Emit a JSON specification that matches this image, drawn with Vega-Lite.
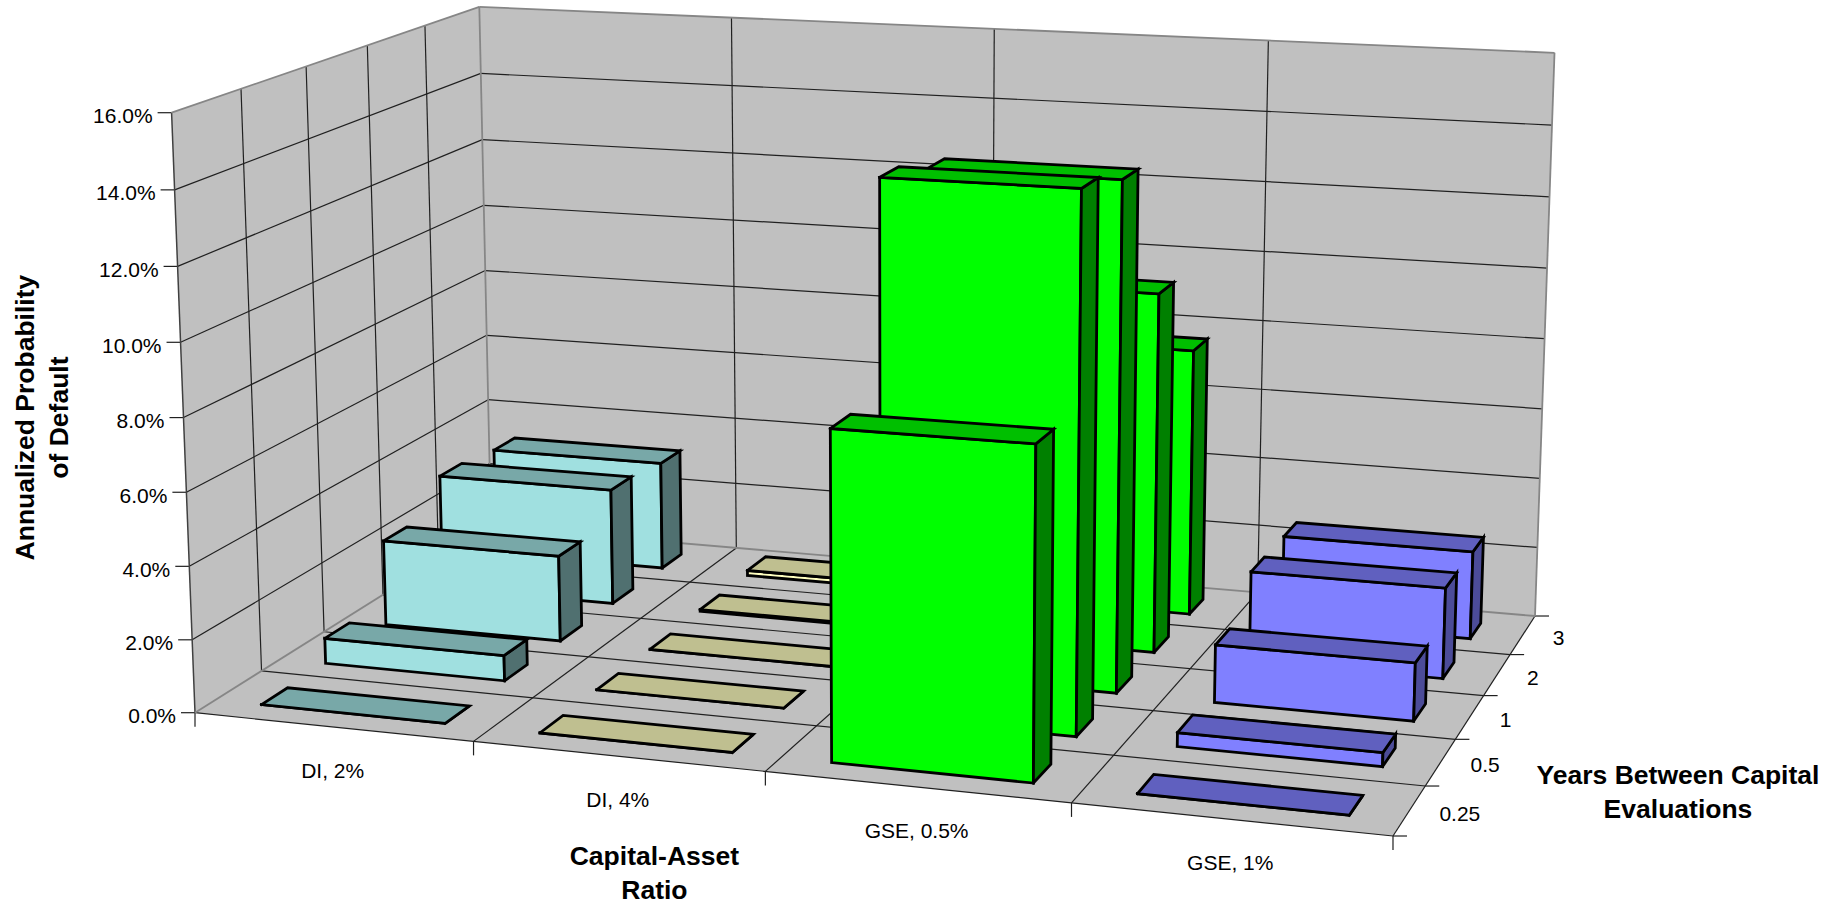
{
  "$schema": "https://vega.github.io/schema/vega-lite/v6.json",
  "width": 1839,
  "height": 906,
  "padding": 0,
  "autosize": {"type": "none"},
  "background": "white",
  "view": {"stroke": null},
  "config": {"text": {"font": "Liberation Sans"}, "style": {"cell": {"stroke": null}}},
  "datasets": {
    "walls": [{"wall": "left"}, {"wall": "back"}, {"wall": "floor"}],
    "grid": [
      {"plane": "leftH", "tick": 2, "line": "grid"}, {"plane": "leftH", "tick": 4, "line": "grid"},
      {"plane": "leftH", "tick": 6, "line": "grid"}, {"plane": "leftH", "tick": 8, "line": "grid"},
      {"plane": "leftH", "tick": 10, "line": "grid"}, {"plane": "leftH", "tick": 12, "line": "grid"},
      {"plane": "leftH", "tick": 14, "line": "grid"},
      {"plane": "backH", "tick": 2, "line": "grid"}, {"plane": "backH", "tick": 4, "line": "grid"},
      {"plane": "backH", "tick": 6, "line": "grid"}, {"plane": "backH", "tick": 8, "line": "grid"},
      {"plane": "backH", "tick": 10, "line": "grid"}, {"plane": "backH", "tick": 12, "line": "grid"},
      {"plane": "backH", "tick": 14, "line": "grid"},
      {"plane": "leftV", "tick": 1, "line": "grid"}, {"plane": "leftV", "tick": 2, "line": "grid"},
      {"plane": "leftV", "tick": 3, "line": "grid"}, {"plane": "leftV", "tick": 4, "line": "grid"},
      {"plane": "backV", "tick": 1, "line": "grid"}, {"plane": "backV", "tick": 2, "line": "grid"},
      {"plane": "backV", "tick": 3, "line": "grid"},
      {"plane": "floorX", "tick": 1, "line": "grid"}, {"plane": "floorX", "tick": 2, "line": "grid"},
      {"plane": "floorX", "tick": 3, "line": "grid"}, {"plane": "floorX", "tick": 4, "line": "grid"},
      {"plane": "floorD", "tick": 0, "line": "grid"}, {"plane": "floorD", "tick": 1, "line": "grid"},
      {"plane": "floorD", "tick": 2, "line": "grid"}, {"plane": "floorD", "tick": 3, "line": "grid"},
      {"plane": "floorD", "tick": 4, "line": "grid"},
      {"plane": "tickZ", "tick": 0, "line": "grid"}, {"plane": "tickZ", "tick": 2, "line": "grid"},
      {"plane": "tickZ", "tick": 4, "line": "grid"}, {"plane": "tickZ", "tick": 6, "line": "grid"},
      {"plane": "tickZ", "tick": 8, "line": "grid"}, {"plane": "tickZ", "tick": 10, "line": "grid"},
      {"plane": "tickZ", "tick": 12, "line": "grid"}, {"plane": "tickZ", "tick": 14, "line": "grid"},
      {"plane": "tickZ", "tick": 16, "line": "grid"},
      {"plane": "tickX", "tick": 0, "line": "grid"}, {"plane": "tickX", "tick": 1, "line": "grid"},
      {"plane": "tickX", "tick": 2, "line": "grid"}, {"plane": "tickX", "tick": 3, "line": "grid"},
      {"plane": "tickX", "tick": 4, "line": "grid"},
      {"plane": "tickD", "tick": 0, "line": "grid"}, {"plane": "tickD", "tick": 1, "line": "grid"},
      {"plane": "tickD", "tick": 2, "line": "grid"}, {"plane": "tickD", "tick": 3, "line": "grid"},
      {"plane": "tickD", "tick": 4, "line": "grid"}, {"plane": "tickD", "tick": 5, "line": "grid"},
      {"plane": "leftV", "tick": 0, "line": "edge"},
      {"plane": "leftH", "tick": 16, "line": "rim"}, {"plane": "backH", "tick": 16, "line": "rim"},
      {"plane": "leftH", "tick": 0, "line": "rim"}, {"plane": "backH", "tick": 0, "line": "rim"},
      {"plane": "backV", "tick": 0, "line": "rim"}, {"plane": "backV", "tick": 4, "line": "rim"}
    ],
    "bars": [
      {"ratio": "DI, 2%", "years": "3", "value": 3.18},
      {"ratio": "DI, 4%", "years": "3", "value": 0.15},
      {"ratio": "GSE, 0.5%", "years": "3", "value": 7.63},
      {"ratio": "GSE, 1%", "years": "3", "value": 2.49},
      {"ratio": "DI, 2%", "years": "2", "value": 3.35},
      {"ratio": "DI, 4%", "years": "2", "value": 0.05},
      {"ratio": "GSE, 0.5%", "years": "2", "value": 10.05},
      {"ratio": "GSE, 1%", "years": "2", "value": 2.52},
      {"ratio": "DI, 2%", "years": "1", "value": 2.44},
      {"ratio": "DI, 4%", "years": "1", "value": 0},
      {"ratio": "GSE, 0.5%", "years": "1", "value": 13.87},
      {"ratio": "GSE, 1%", "years": "1", "value": 1.58},
      {"ratio": "DI, 2%", "years": "0.5", "value": 0.71},
      {"ratio": "DI, 4%", "years": "0.5", "value": 0},
      {"ratio": "GSE, 0.5%", "years": "0.5", "value": 14.34},
      {"ratio": "GSE, 1%", "years": "0.5", "value": 0.37},
      {"ratio": "DI, 2%", "years": "0.25", "value": 0},
      {"ratio": "DI, 4%", "years": "0.25", "value": 0},
      {"ratio": "GSE, 0.5%", "years": "0.25", "value": 8.7},
      {"ratio": "GSE, 1%", "years": "0.25", "value": 0}
    ],
    "valueLabels": [
      {"label": "0.0%", "at": 0}, {"label": "2.0%", "at": 2}, {"label": "4.0%", "at": 4},
      {"label": "6.0%", "at": 6}, {"label": "8.0%", "at": 8}, {"label": "10.0%", "at": 10},
      {"label": "12.0%", "at": 12}, {"label": "14.0%", "at": 14}, {"label": "16.0%", "at": 16}
    ],
    "ratioLabels": [
      {"label": "DI, 2%", "at": 0.5}, {"label": "DI, 4%", "at": 1.5},
      {"label": "GSE, 0.5%", "at": 2.5}, {"label": "GSE, 1%", "at": 3.5}
    ],
    "yearLabels": [
      {"label": "0.25", "at": 0.5}, {"label": "0.5", "at": 1.5}, {"label": "1", "at": 2.5},
      {"label": "2", "at": 3.5}, {"label": "3", "at": 4.5}
    ]
  },
  "encoding": {
    "x": {"field": "px", "type": "quantitative", "axis": null, "scale": {"domain": [0, 1839], "nice": false, "zero": false}},
    "y": {"field": "py", "type": "quantitative", "axis": null, "scale": {"domain": [906, 0], "nice": false, "zero": false}}
  },
  "layer": [
    {
      "description": "Left wall, back wall and floor of the box",
      "data": {"name": "walls"},
      "transform": [
        {"calculate": "datum.wall === 'left' ? [[0,0,0],[0,5,0],[0,5,16],[0,0,16]] : datum.wall === 'back' ? [[0,5,0],[4,5,0],[4,5,16],[0,5,16]] : [[0,0,0],[4,0,0],[4,5,0],[0,5,0]]", "as": "corners"},
        {"calculate": "[0,1,2,3]", "as": "seq"},
        {"flatten": ["corners", "seq"]},
        {"calculate": "datum.corners[0]", "as": "wx"},
        {"calculate": "datum.corners[1]", "as": "wd"},
        {"calculate": "datum.corners[2]", "as": "wz"},
        {"calculate": "1 - 0.0228*datum.wx + 0.03198*datum.wd - 0.002*datum.wz", "as": "w"},
        {"calculate": "(267.7375*datum.wx + 74.902*datum.wd - 1.80625*datum.wz + 195)/datum.w", "as": "px"},
        {"calculate": "(11.765*datum.wx - 20.286*datum.wd - 37.725*datum.wz + 712.7)/datum.w", "as": "py"}
      ],
      "mark": {"type": "line", "fill": "#C0C0C0", "stroke": null, "strokeWidth": 0},
      "encoding": {
        "detail": {"field": "wall"},
        "order": {"field": "seq", "type": "quantitative"}
      }
    },
    {
      "description": "Grid lines, box edges and axis ticks",
      "data": {"name": "grid"},
      "transform": [
        {"calculate": "indexof(['backV','floorX','tickX'], datum.plane) >= 0 ? datum.tick : datum.plane === 'tickD' ? 4 : 0", "as": "ax"},
        {"calculate": "indexof(['leftV','floorD','tickD'], datum.plane) >= 0 ? datum.tick : (datum.plane === 'backH' || datum.plane === 'backV') ? 5 : 0", "as": "ad"},
        {"calculate": "indexof(['leftH','backH','tickZ'], datum.plane) >= 0 ? datum.tick : 0", "as": "az"},
        {"calculate": "(datum.plane === 'backH' || datum.plane === 'floorD') ? 4 : datum.ax", "as": "bx"},
        {"calculate": "(datum.plane === 'leftH' || datum.plane === 'floorX') ? 5 : datum.ad", "as": "bd"},
        {"calculate": "(datum.plane === 'leftV' || datum.plane === 'backV') ? 16 : datum.az", "as": "bz"},
        {"calculate": "1 - 0.0228*datum.ax + 0.03198*datum.ad - 0.002*datum.az", "as": "wa"},
        {"calculate": "1 - 0.0228*datum.bx + 0.03198*datum.bd - 0.002*datum.bz", "as": "wb"},
        {"calculate": "(267.7375*datum.ax + 74.902*datum.ad - 1.80625*datum.az + 195)/datum.wa", "as": "px"},
        {"calculate": "(11.765*datum.ax - 20.286*datum.ad - 37.725*datum.az + 712.7)/datum.wa", "as": "py"},
        {"calculate": "(267.7375*datum.bx + 74.902*datum.bd - 1.80625*datum.bz + 195)/datum.wb + (datum.plane === 'tickZ' ? -14 : datum.plane === 'tickD' ? 14 : 0)", "as": "px2"},
        {"calculate": "(11.765*datum.bx - 20.286*datum.bd - 37.725*datum.bz + 712.7)/datum.wb + (datum.plane === 'tickX' ? 14 : 0)", "as": "py2"}
      ],
      "mark": {"type": "rule"},
      "encoding": {
        "x2": {"field": "px2"},
        "y2": {"field": "py2"},
        "color": {"field": "line", "type": "nominal", "legend": null, "scale": {"domain": ["grid", "edge", "rim"], "range": ["#202020", "#404040", "#868686"]}},
        "strokeWidth": {"field": "line", "type": "nominal", "legend": null, "scale": {"domain": ["grid", "edge", "rim"], "range": [1.2, 1.8, 2.6]}}
      }
    },
    {
      "description": "Three visible faces of each column, painted back to front",
      "data": {"name": "bars"},
      "transform": [
        {"calculate": "indexof(['DI, 2%','DI, 4%','GSE, 0.5%','GSE, 1%'], datum.ratio)", "as": "ci"},
        {"calculate": "indexof(['0.25','0.5','1','2','3'], datum.years)", "as": "yi"},
        {"calculate": "[{f:'front',i:0,a:0,b:0,c:0},{f:'front',i:1,a:1,b:0,c:0},{f:'front',i:2,a:1,b:0,c:1},{f:'front',i:3,a:0,b:0,c:1},{f:'front',i:4,a:0,b:0,c:0},{f:'side',i:0,a:1,b:0,c:0},{f:'side',i:1,a:1,b:1,c:0},{f:'side',i:2,a:1,b:1,c:1},{f:'side',i:3,a:1,b:0,c:1},{f:'side',i:4,a:1,b:0,c:0},{f:'top',i:0,a:0,b:0,c:1},{f:'top',i:1,a:1,b:0,c:1},{f:'top',i:2,a:1,b:1,c:1},{f:'top',i:3,a:0,b:1,c:1},{f:'top',i:4,a:0,b:0,c:1}]", "as": "v"},
        {"flatten": ["v"]},
        {"calculate": "datum.ratio + '|' + datum.v.f", "as": "faceKey"},
        {"calculate": "datum.ratio + '|' + datum.years + '|' + datum.v.f", "as": "faceId"},
        {"calculate": "datum.v.i", "as": "seq"},
        {"calculate": "datum.ci + 0.17 + 0.665*datum.v.a", "as": "wx"},
        {"calculate": "datum.yi + 0.3 + 0.4*datum.v.b", "as": "wd"},
        {"calculate": "datum.value*datum.v.c", "as": "wz"},
        {"calculate": "1 - 0.0228*datum.wx + 0.03198*datum.wd - 0.002*datum.wz", "as": "w"},
        {"calculate": "(267.7375*datum.wx + 74.902*datum.wd - 1.80625*datum.wz + 195)/datum.w", "as": "px"},
        {"calculate": "(11.765*datum.wx - 20.286*datum.wd - 37.725*datum.wz + 712.7)/datum.w", "as": "py"}
      ],
      "mark": {"type": "line", "stroke": "#000000", "strokeWidth": 2.8, "strokeJoin": "miter", "strokeCap": "square"},
      "encoding": {
        "detail": {"field": "faceId"},
        "order": {"field": "seq", "type": "quantitative"},
        "fill": {
          "field": "faceKey", "type": "nominal", "legend": null,
          "scale": {
            "domain": ["DI, 2%|front", "DI, 2%|top", "DI, 2%|side", "DI, 4%|front", "DI, 4%|top", "DI, 4%|side", "GSE, 0.5%|front", "GSE, 0.5%|top", "GSE, 0.5%|side", "GSE, 1%|front", "GSE, 1%|top", "GSE, 1%|side"],
            "range": ["#A0E0E0", "#78A8A8", "#507070", "#FFFFC0", "#BFBF90", "#808060", "#00FF00", "#00BF00", "#008000", "#8080FF", "#6060BF", "#4C4C99"]
          }
        }
      }
    },
    {
      "description": "Probability labels along the front-left edge",
      "data": {"name": "valueLabels"},
      "transform": [
        {"calculate": "1 - 0.002*datum.at", "as": "w"},
        {"calculate": "(195 - 1.80625*datum.at)/datum.w", "as": "px"},
        {"calculate": "(712.7 - 37.725*datum.at)/datum.w", "as": "py"}
      ],
      "mark": {"type": "text", "align": "right", "baseline": "middle", "dx": -19, "dy": 4.5, "fontSize": 21, "font": "Liberation Sans", "color": "#000000"},
      "encoding": {"text": {"field": "label"}}
    },
    {
      "description": "Capital-asset ratio labels along the front edge",
      "data": {"name": "ratioLabels"},
      "transform": [
        {"calculate": "1 - 0.0228*datum.at", "as": "w"},
        {"calculate": "(267.7375*datum.at + 195)/datum.w", "as": "px"},
        {"calculate": "(11.765*datum.at + 712.7)/datum.w", "as": "py"}
      ],
      "mark": {"type": "text", "align": "center", "baseline": "middle", "dy": 45, "fontSize": 21, "font": "Liberation Sans", "color": "#000000"},
      "encoding": {"text": {"field": "label"}}
    },
    {
      "description": "Evaluation interval labels along the right edge",
      "data": {"name": "yearLabels"},
      "transform": [
        {"calculate": "1 - 0.0912 + 0.03198*datum.at", "as": "w"},
        {"calculate": "(1070.95 + 74.902*datum.at + 195)/datum.w", "as": "px"},
        {"calculate": "(47.06 - 20.286*datum.at + 712.7)/datum.w", "as": "py"}
      ],
      "mark": {"type": "text", "align": "left", "baseline": "middle", "dx": 30, "dy": 4, "fontSize": 21, "font": "Liberation Sans", "color": "#000000"},
      "encoding": {"text": {"field": "label"}}
    },
    {
      "description": "Title of the ratio axis, below the middle of the front edge",
      "data": {"values": [{"title": "Capital-Asset\nRatio"}]},
      "transform": [
        {"calculate": "(267.7375*2 + 195)/(1 - 0.0228*2)", "as": "px"},
        {"calculate": "(11.765*2 + 712.7)/(1 - 0.0228*2)", "as": "py"}
      ],
      "mark": {"type": "text", "align": "center", "baseline": "middle", "lineBreak": "\n", "lineHeight": 34, "dx": -111, "dy": 86, "fontSize": 26.5, "fontWeight": "bold", "font": "Liberation Sans", "color": "#000000"},
      "encoding": {"text": {"field": "title"}}
    },
    {
      "description": "Title of the interval axis, right of the front-right corner",
      "data": {"values": [{"title": "Years Between Capital\nEvaluations"}]},
      "transform": [
        {"calculate": "(267.7375*4 + 195)/(1 - 0.0228*4)", "as": "px"},
        {"calculate": "(11.765*4 + 712.7)/(1 - 0.0228*4)", "as": "py"}
      ],
      "mark": {"type": "text", "align": "center", "baseline": "middle", "lineBreak": "\n", "lineHeight": 34, "dx": 285, "dy": -60, "fontSize": 26.5, "fontWeight": "bold", "font": "Liberation Sans", "color": "#000000"},
      "encoding": {"text": {"field": "title"}}
    },
    {
      "description": "Title of the probability axis, left of the value labels",
      "data": {"values": [{"title": "Annualized Probability\nof Default"}]},
      "transform": [
        {"calculate": "(195 - 1.80625*8)/(1 - 0.002*8) - 157", "as": "px"},
        {"calculate": "(712.7 - 37.725*8)/(1 - 0.002*8)", "as": "py"}
      ],
      "mark": {"type": "text", "align": "center", "baseline": "middle", "angle": 270, "lineBreak": "\n", "lineHeight": 34, "fontSize": 26.5, "fontWeight": "bold", "font": "Liberation Sans", "color": "#000000"},
      "encoding": {"text": {"field": "title"}}
    }
  ]
}
